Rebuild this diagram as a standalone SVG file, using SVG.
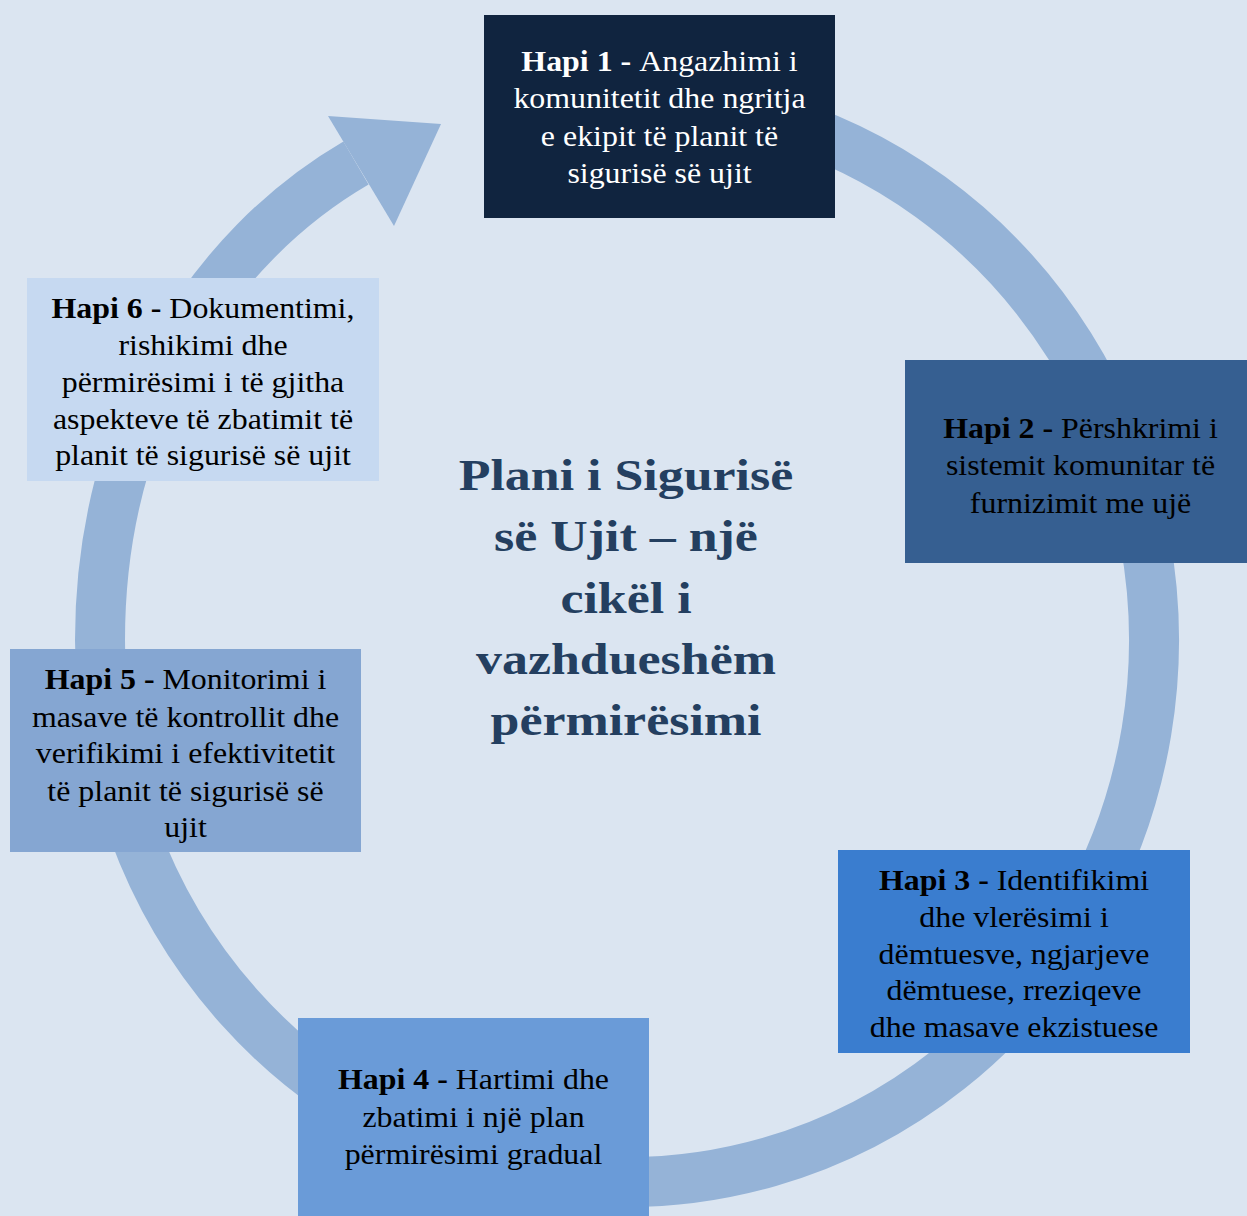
<svg xmlns="http://www.w3.org/2000/svg" width="1247" height="1216" viewBox="0 0 1247 1216">
<style>
.t{font-family:"Liberation Serif","Times New Roman",serif;font-size:29px;text-anchor:middle;fill:#000}
.w{fill:#fff}
.b{font-weight:bold}
.title{font-family:"Liberation Serif","Times New Roman",serif;font-size:44px;font-weight:bold;text-anchor:middle;fill:#243F60}
.ring{fill:none;stroke:#95B3D7;stroke-width:50}
</style>
<rect width="1247" height="1216" fill="#DBE5F1"/>
<g id="connectors">
<path class="ring" d="M 760 115.6 A 527 542 0 1 1 100 640 C 100 420 210 248 356 163"/>
<polygon points="328,116 441,124 394,226" fill="#95B3D7"/>
</g>
<g id="title">
<g transform="translate(626,0) scale(1.18,1)">
<text class="title" x="0" y="490">Plani i Sigurisë</text>
<text class="title" x="0" y="551.5">së Ujit – një</text>
<text class="title" x="0" y="613">cikël i</text>
<text class="title" x="0" y="674">vazhdueshëm</text>
<text class="title" x="0" y="735">përmirësimi</text>
</g>
</g>
<g id="hapi1">
<rect x="484" y="15" width="351" height="203" fill="#10243F"/>
<g transform="translate(659.5,0) scale(1.1,1)">
<text class="t w" x="0" y="71"><tspan class="b">Hapi 1 - </tspan>Angazhimi i</text>
<text class="t w" x="0" y="108.5">komunitetit dhe ngritja</text>
<text class="t w" x="0" y="146">e ekipit të planit të</text>
<text class="t w" x="0" y="183.5">sigurisë së ujit</text>
</g>
</g>
<g id="hapi2">
<rect x="905" y="360" width="351" height="203" fill="#365F91"/>
<g transform="translate(1080.5,0) scale(1.1,1)">
<text class="t" x="0" y="438"><tspan class="b">Hapi 2 - </tspan>Përshkrimi i</text>
<text class="t" x="0" y="475.5">sistemit komunitar të</text>
<text class="t" x="0" y="513">furnizimit me ujë</text>
</g>
</g>
<g id="hapi3">
<rect x="838" y="850" width="352" height="203" fill="#3A7DCF"/>
<g transform="translate(1014,0) scale(1.1,1)">
<text class="t" x="0" y="890.5"><tspan class="b">Hapi 3 - </tspan>Identifikimi</text>
<text class="t" x="0" y="927.3">dhe vlerësimi i</text>
<text class="t" x="0" y="964">dëmtuesve, ngjarjeve</text>
<text class="t" x="0" y="1000.5">dëmtuese, rreziqeve</text>
<text class="t" x="0" y="1037">dhe masave ekzistuese</text>
</g>
</g>
<g id="hapi4">
<rect x="298" y="1018" width="351" height="203" fill="#6A9BD8"/>
<g transform="translate(473.5,0) scale(1.1,1)">
<text class="t" x="0" y="1089.3"><tspan class="b">Hapi 4 - </tspan>Hartimi dhe</text>
<text class="t" x="0" y="1126.7">zbatimi i një plan</text>
<text class="t" x="0" y="1164">përmirësimi gradual</text>
</g>
</g>
<g id="hapi5">
<rect x="10" y="649" width="351" height="203" fill="#85A6D2"/>
<g transform="translate(185.5,0) scale(1.1,1)">
<text class="t" x="0" y="689.3"><tspan class="b">Hapi 5 - </tspan>Monitorimi i</text>
<text class="t" x="0" y="726.7">masave të kontrollit dhe</text>
<text class="t" x="0" y="763.5">verifikimi i efektivitetit</text>
<text class="t" x="0" y="800.7">të planit të sigurisë së</text>
<text class="t" x="0" y="837">ujit</text>
</g>
</g>
<g id="hapi6">
<rect x="27" y="278" width="352" height="203" fill="#C6D9F1"/>
<g transform="translate(203,0) scale(1.1,1)">
<text class="t" x="0" y="318.3"><tspan class="b">Hapi 6 - </tspan>Dokumentimi,</text>
<text class="t" x="0" y="355">rishikimi dhe</text>
<text class="t" x="0" y="391.7">përmirësimi i të gjitha</text>
<text class="t" x="0" y="429.3">aspekteve të zbatimit të</text>
<text class="t" x="0" y="465">planit të sigurisë së ujit</text>
</g>
</g>
</svg>
